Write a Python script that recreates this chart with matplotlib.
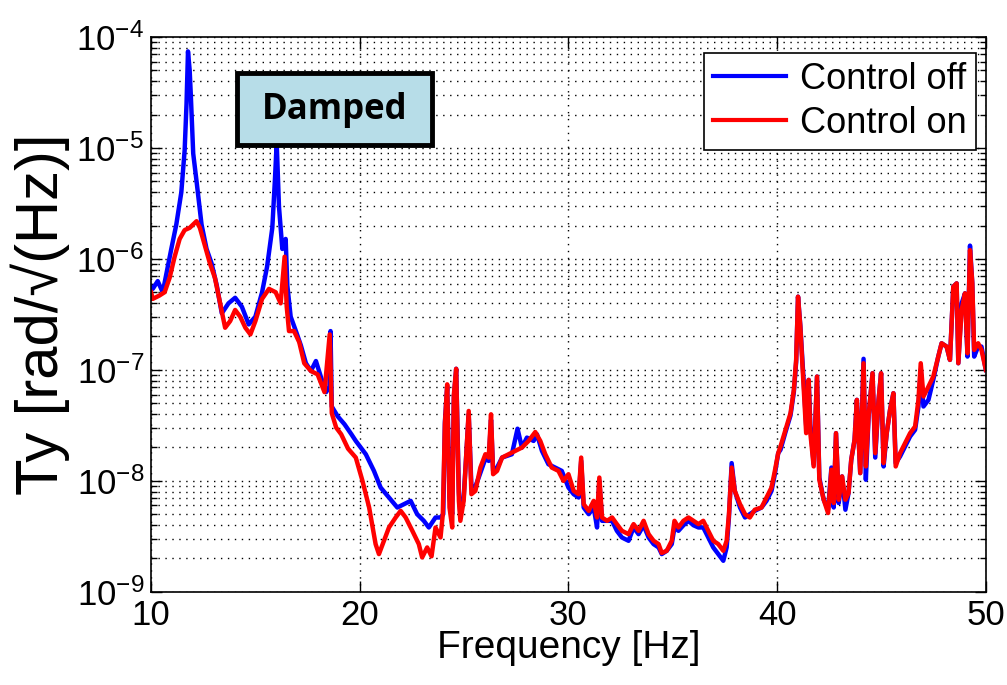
import numpy as np
import matplotlib
matplotlib.use("Agg")
from matplotlib import pyplot as plt
from matplotlib.patches import Rectangle
from matplotlib.ticker import LogLocator, NullLocator, FixedLocator, NullFormatter

plt.rcParams['font.family'] = ['Liberation Sans', 'DejaVu Sans']
plt.rcParams['mathtext.default'] = 'regular'

# Control off (blue): frequency [Hz], log10 amplitude
f_off = [10.0, 10.08, 10.32, 10.56, 10.97, 11.21, 11.45, 11.61, 11.70, 11.77, 11.85, 11.90,
         12.02, 12.18, 12.42, 12.66, 12.90, 13.15, 13.39, 13.71, 14.03, 14.35, 14.68, 15.00,
         15.32, 15.56, 15.81, 15.94, 16.02, 16.13, 16.29, 16.45, 16.53, 16.69, 16.94, 17.18,
         17.42, 17.66, 17.90, 18.15, 18.39, 18.55, 18.60, 18.66, 18.95, 19.27, 19.60, 19.81,
         20.29, 20.68, 21.00, 21.40, 21.80, 22.12, 22.44, 22.75, 23.07, 23.31, 23.63, 23.87,
         24.00, 24.08, 24.19, 24.30, 24.43, 24.51, 24.62, 24.75, 24.82, 24.98, 25.22, 25.35,
         25.54, 25.70, 26.02, 26.18, 26.29, 26.39, 26.50, 26.82, 27.29, 27.56, 27.77, 28.01,
         28.33, 28.49, 28.73, 29.04, 29.36, 29.68, 30.00, 30.25, 30.49, 30.61, 30.73, 30.97,
         31.21, 31.37, 31.48, 31.61, 31.85, 32.09, 32.32, 32.56, 32.88, 33.12, 33.36, 33.60,
         33.84, 34.08, 34.32, 34.47, 34.71, 34.95, 35.08, 35.27, 35.51, 35.75, 35.99, 36.23,
         36.46, 36.70, 36.94, 37.18, 37.42, 37.58, 37.69, 37.82, 37.97, 38.22, 38.46, 38.69,
         38.93, 39.25, 39.49, 39.73, 39.89, 40.05, 40.16, 40.40, 40.64, 40.80, 40.91, 41.00,
         41.11, 41.19, 41.27, 41.39, 41.51, 41.59, 41.75, 41.91, 42.02, 42.23, 42.44, 42.60,
         42.71, 42.82, 42.95, 43.11, 43.27, 43.42, 43.55, 43.71, 43.82, 43.98, 44.14, 44.25,
         44.38, 44.57, 44.70, 44.86, 44.98, 45.10, 45.25, 45.41, 45.57, 45.68, 45.89, 46.13,
         46.37, 46.61, 46.77, 46.88, 47.01, 47.25, 47.48, 47.72, 47.88, 48.12, 48.28, 48.44,
         48.60, 48.68, 48.84, 49.00, 49.12, 49.24, 49.35, 49.44, 49.63, 49.79, 50.0]
log_off = [-6.25, -6.27, -6.20, -6.30, -5.91, -5.69, -5.40, -5.02, -4.60, -4.13, -4.30, -4.50,
           -5.05, -5.30, -5.69, -5.91, -6.04, -6.24, -6.49, -6.40, -6.35, -6.43, -6.59, -6.52,
           -6.30, -6.07, -5.72, -5.27, -4.95, -5.53, -5.91, -5.82, -6.24, -6.52, -6.65, -6.78,
           -6.94, -7.01, -6.92, -7.07, -7.20, -7.15, -6.65, -7.33, -7.42, -7.49, -7.58, -7.64,
           -7.76, -7.91, -8.06, -8.15, -8.24, -8.21, -8.18, -8.30, -8.36, -8.42, -8.33, -8.33,
           -8.30, -7.47, -7.15, -8.15, -8.30, -7.25, -6.99, -8.10, -8.30, -8.15, -7.40, -8.05,
           -8.05, -7.97, -7.80, -7.82, -7.45, -7.91, -7.91, -7.79, -7.76, -7.53, -7.70, -7.61,
           -7.64, -7.58, -7.73, -7.85, -7.88, -7.91, -8.06, -8.12, -8.15, -7.82, -8.24, -8.30,
           -8.24, -8.42, -8.00, -8.36, -8.36, -8.36, -8.45, -8.51, -8.54, -8.42, -8.48, -8.40,
           -8.51, -8.57, -8.60, -8.66, -8.63, -8.57, -8.42, -8.45, -8.40, -8.36, -8.40, -8.42,
           -8.42, -8.51, -8.60, -8.66, -8.72, -8.60, -8.33, -7.84, -8.09, -8.24, -8.33, -8.30,
           -8.27, -8.24, -8.18, -8.09, -7.94, -7.75, -7.72, -7.56, -7.41, -7.20, -6.93, -6.34,
           -6.60, -6.85, -7.10, -7.50, -7.09, -7.50, -7.85, -7.06, -7.97, -8.17, -8.26, -7.88,
           -8.24, -7.57, -8.20, -7.96, -8.26, -8.11, -7.81, -7.63, -7.27, -7.93, -6.90, -7.99,
           -7.42, -7.03, -7.79, -7.27, -7.03, -7.87, -7.57, -7.36, -7.21, -7.84, -7.78, -7.69,
           -7.60, -7.54, -7.33, -7.00, -7.33, -7.27, -7.09, -6.88, -6.76, -6.79, -6.91, -6.25,
           -6.22, -6.94, -6.40, -6.31, -6.88, -5.88, -6.22, -6.88, -6.79, -6.79, -7.00]

# Control on (red)
f_on = [10.0, 10.08, 10.40, 10.65, 10.89, 11.13, 11.37, 11.61, 11.85, 12.18, 12.34, 12.58,
        12.82, 13.06, 13.31, 13.55, 13.79, 14.03, 14.27, 14.52, 14.76, 15.00, 15.32, 15.65,
        15.97, 16.21, 16.40, 16.50, 16.61, 16.85, 17.10, 17.34, 17.66, 17.98, 18.31, 18.56,
        18.66, 18.87, 19.11, 19.44, 19.81, 20.13, 20.45, 20.76, 20.92, 21.16, 21.40, 21.72,
        21.96, 22.20, 22.52, 22.83, 22.99, 23.23, 23.44, 23.63, 23.87, 23.98, 24.08, 24.19,
        24.30, 24.43, 24.51, 24.62, 24.75, 24.82, 24.98, 25.22, 25.35, 25.54, 25.78, 26.02,
        26.18, 26.29, 26.39, 26.58, 26.82, 27.13, 27.45, 27.77, 28.09, 28.41, 28.65, 28.89,
        29.20, 29.52, 29.76, 30.00, 30.25, 30.49, 30.61, 30.73, 30.97, 31.21, 31.37, 31.48,
        31.61, 31.85, 32.09, 32.32, 32.56, 32.88, 33.12, 33.36, 33.60, 33.84, 34.08, 34.32,
        34.47, 34.71, 34.95, 35.08, 35.27, 35.51, 35.75, 35.99, 36.23, 36.46, 36.70, 36.94,
        37.18, 37.42, 37.58, 37.69, 37.82, 37.97, 38.22, 38.46, 38.69, 38.93, 39.25, 39.49,
        39.73, 39.89, 40.05, 40.16, 40.40, 40.64, 40.80, 40.91, 41.00, 41.11, 41.19, 41.27,
        41.39, 41.51, 41.59, 41.75, 41.91, 42.02, 42.23, 42.44, 42.60, 42.71, 42.82, 42.95,
        43.11, 43.27, 43.42, 43.55, 43.71, 43.82, 43.98, 44.14, 44.25, 44.38, 44.57, 44.70,
        44.86, 44.98, 45.10, 45.25, 45.41, 45.57, 45.68, 45.89, 46.13, 46.37, 46.61, 46.77,
        46.88, 47.01, 47.25, 47.48, 47.72, 47.88, 48.12, 48.28, 48.44, 48.60, 48.68, 48.84,
        49.00, 49.12, 49.24, 49.35, 49.44, 49.63, 49.79, 50.0]
log_on = [-6.30, -6.36, -6.33, -6.30, -6.17, -5.98, -5.82, -5.74, -5.72, -5.66, -5.72, -5.88,
          -6.04, -6.17, -6.40, -6.62, -6.56, -6.46, -6.52, -6.62, -6.68, -6.56, -6.36, -6.27,
          -6.30, -6.40, -5.98, -6.43, -6.65, -6.65, -6.75, -6.94, -7.01, -7.04, -7.20, -6.68,
          -7.39, -7.52, -7.58, -7.71, -7.79, -8.00, -8.24, -8.57, -8.66, -8.54, -8.42, -8.33,
          -8.27, -8.33, -8.45, -8.57, -8.69, -8.60, -8.68, -8.42, -8.51, -8.30, -7.49, -7.13,
          -8.24, -8.42, -7.22, -6.99, -8.18, -8.36, -8.18, -7.37, -8.12, -8.09, -7.88, -7.76,
          -7.79, -7.40, -7.94, -7.91, -7.79, -7.76, -7.73, -7.70, -7.64, -7.56, -7.64, -7.76,
          -7.88, -7.91, -8.00, -7.94, -8.09, -8.12, -7.79, -8.21, -8.27, -8.18, -8.33, -7.97,
          -8.33, -8.36, -8.33, -8.39, -8.45, -8.48, -8.39, -8.45, -8.36, -8.48, -8.54, -8.57,
          -8.65, -8.63, -8.54, -8.36, -8.42, -8.36, -8.33, -8.36, -8.39, -8.36, -8.45, -8.54,
          -8.57, -8.63, -8.54, -8.30, -7.88, -8.09, -8.21, -8.30, -8.33, -8.26, -8.24, -8.15,
          -8.06, -7.91, -7.75, -7.69, -7.54, -7.39, -7.18, -6.91, -6.34, -6.61, -6.88, -7.15,
          -7.57, -7.09, -7.57, -7.87, -7.06, -7.99, -8.17, -8.29, -7.90, -8.20, -7.57, -8.17,
          -7.96, -8.17, -8.11, -7.81, -7.63, -7.27, -7.93, -6.94, -7.87, -7.42, -7.03, -7.75,
          -7.27, -7.03, -7.84, -7.57, -7.36, -7.21, -7.87, -7.75, -7.66, -7.57, -7.51, -7.27,
          -6.94, -7.24, -7.15, -7.06, -6.88, -6.76, -6.79, -6.91, -6.25, -6.22, -6.94, -6.46,
          -6.31, -6.85, -5.92, -6.22, -6.82, -6.76, -6.82, -7.00]

fig = plt.figure(figsize=(10.07, 6.85), dpi=100)
ax = fig.add_axes([0.150, 0.136, 0.829, 0.810])

ax.plot(f_off, 10.0 ** np.array(log_off), color='#0000ff', lw=3.2, label='Control off')
ax.plot(f_on, 10.0 ** np.array(log_on), color='#ff0000', lw=3.2, label='Control on')

ax.set_yscale('log')
ax.set_xlim(10, 50)
ax.set_ylim(1e-9, 1e-4)
ax.xaxis.set_major_locator(FixedLocator([10, 20, 30, 40, 50]))
ax.xaxis.set_minor_locator(NullLocator())
ax.yaxis.set_major_locator(LogLocator(base=10, numticks=10))
ax.yaxis.set_minor_locator(LogLocator(base=10, subs=np.arange(2, 10), numticks=20))
ax.yaxis.set_minor_formatter(NullFormatter())

ax.grid(True, which='major', color='k', linestyle=(0, (1, 4)), lw=1.0)
ax.grid(True, which='minor', axis='y', color='k', linestyle=(0, (1, 4)), lw=1.0)

ax.tick_params(which='both', direction='in', top=True, right=True, labelsize=25, width=1)
ax.tick_params(which='major', length=8, pad=5)
ax.tick_params(which='minor', length=4)
for s in ax.spines.values():
    s.set_linewidth(1.2)

ax.set_xlabel('Frequency [Hz]', fontsize=28)
ax.set_ylabel('Ty [rad/\u221a(Hz)]', fontsize=43)
ax.xaxis.set_label_coords(0.5, -0.068)
ax.yaxis.set_label_coords(-0.097, 0.5)

leg = ax.legend(loc='upper right', bbox_to_anchor=(0.988, 0.972), fontsize=26,
                handlelength=2.0, fancybox=False, edgecolor='k', framealpha=1,
                borderpad=0.25, labelspacing=0.25, handletextpad=0.4, borderaxespad=0)
leg.get_frame().set_linewidth(1.2)
for ln in leg.get_lines():
    ln.set_linewidth(3)

ax.add_patch(Rectangle((0.103, 0.805), 0.2335, 0.130, transform=ax.transAxes,
                       facecolor='#b7dde8', edgecolor='k', lw=3.5, zorder=5))
ax.text(0.2198, 0.868, 'Damped', transform=ax.transAxes, ha='center', va='center',
        fontsize=25, fontweight='bold', family='Open Sans', zorder=6)

fig.savefig('out.png', dpi=100)
